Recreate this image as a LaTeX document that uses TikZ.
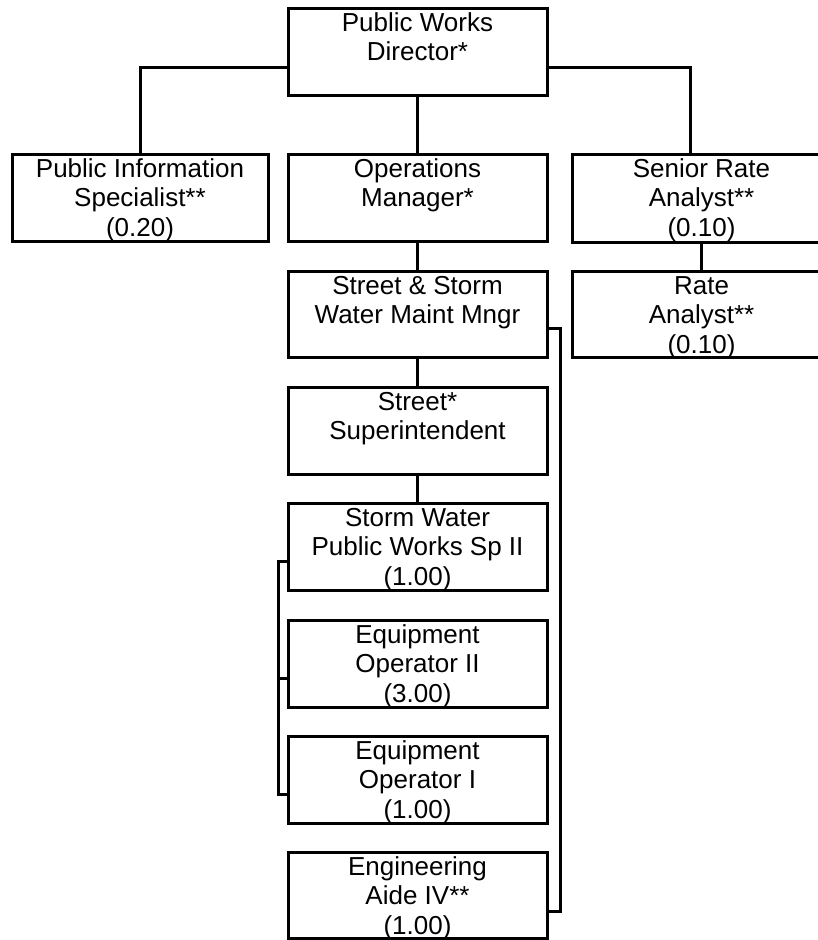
\documentclass[tikz,border=0pt]{standalone}
\usepackage{fontspec}
\setmainfont{Liberation Sans}
\newcommand\orgnode[6]{%
  \node[orgbox, minimum width=#4pt, minimum height=#5pt] (#1) at (#2,#3) {};
  \node[orgtext] (#1t) at (#1.north) {\strut #6};}
\begin{document}
\begin{tikzpicture}[x=1pt,y=-1pt,
  orgbox/.style={draw=black, line width=3pt, rectangle, inner sep=0pt, outer sep=0pt, anchor=north west},
  orgtext/.style={anchor=north, inner sep=0pt, align=center, font=\fontsize{26}{29.5}\selectfont, yshift=-2.35pt},
  link/.style={draw=black, line width=3pt}]
\useasboundingbox (0,0) rectangle (817,940);

\orgnode{pwd}{288}{8}{259}{87}{Public Works\\Director*}
\orgnode{pis}{12}{154}{256}{87}{Public Information\\Specialist**\\(0.20)}
\orgnode{ops}{288}{154}{259}{87}{Operations\\Manager*}
\orgnode{sra}{572}{154}{259}{88}{Senior Rate\\Analyst**\\(0.10)}
\orgnode{ra}{572}{271}{259}{86}{Rate\\Analyst**\\(0.10)}
\orgnode{sswm}{288}{271}{259}{86}{Street \& Storm\\Water Maint Mngr}
\orgnode{ss}{288}{387}{259}{87}{Street*\\Superintendent}
\orgnode{swp}{288}{503}{259}{87}{Storm Water\\Public Works Sp II\\(1.00)}
\orgnode{eoii}{288}{620}{259}{87}{Equipment\\Operator II\\(3.00)}
\orgnode{eoi}{288}{736}{259}{87}{Equipment\\Operator I\\(1.00)}
\orgnode{eng}{288}{852}{259}{86}{Engineering\\Aide IV**\\(1.00)}

\draw[link] ([yshift=-15.5pt]pwd.west) -| (pis.north);
\draw[link] ([yshift=-15.5pt]pwd.east) -| ([xshift=-11pt]sra.north);
\draw[link] (pwd.south) -- (ops.north);
\draw[link] (ops.south) -- (sswm.north);
\draw[link] (sswm.south) -- (ss.north);
\draw[link] (ss.south) -- (swp.north);
\draw[link] (sra.south) -- (ra.north);
\draw[link] ([yshift=-14.5pt]swp.west) -- ++(-10,0) |- ([yshift=-14.5pt]eoi.west);
\draw[link] ([yshift=-14.5pt]eoii.west) -- ++(-10,0);
\draw[link] ([yshift=-14pt]sswm.east) -- ++(13,0) |- ([yshift=-16pt]eng.east);
\end{tikzpicture}
\end{document}
